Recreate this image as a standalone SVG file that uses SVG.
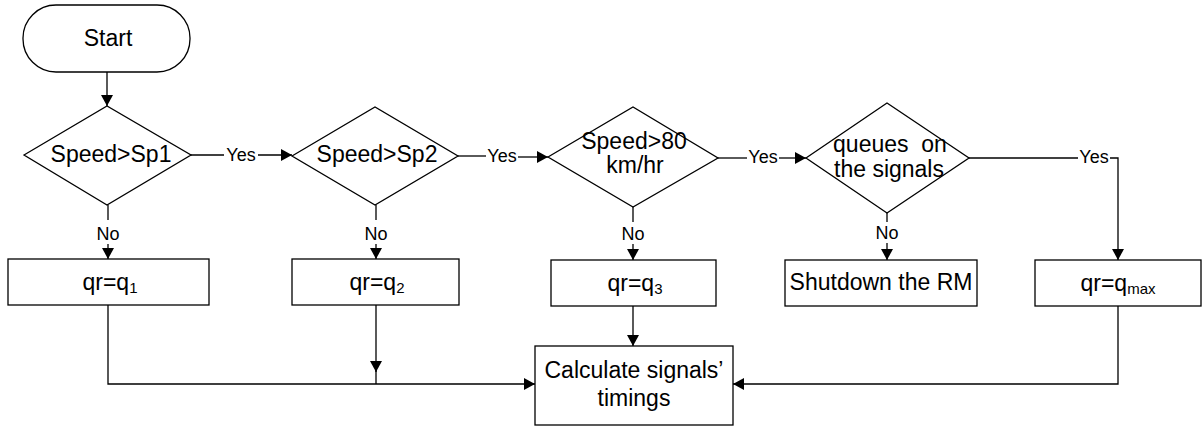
<svg xmlns="http://www.w3.org/2000/svg" width="1204" height="428" viewBox="0 0 1204 428">
<style>
.shape{fill:#fff;stroke:#000;stroke-width:1.3}
.ln{fill:none;stroke:#000;stroke-width:1.3}
.t{font-family:"Liberation Sans",Arial,sans-serif;font-size:23px;fill:#000;text-anchor:middle}
.lb{font-family:"Liberation Sans",Arial,sans-serif;font-size:18px;fill:#000;text-anchor:middle}
.sub{font-size:15px}
</style>
<defs>
<marker id="arr" markerUnits="userSpaceOnUse" markerWidth="11" markerHeight="12" refX="11" refY="6" orient="auto">
<path d="M0,0 L11,6 L0,12 z" fill="#000"/>
</marker>
</defs>
<rect width="1204" height="428" fill="#fff"/>
<g id="connectors">
<line class="ln" x1="107" y1="72" x2="107" y2="106" marker-end="url(#arr)"/>
<line class="ln" x1="191" y1="155" x2="224" y2="155"/>
<line class="ln" x1="258" y1="155" x2="292" y2="155" marker-end="url(#arr)"/>
<text class="lb" x="241" y="161">Yes</text>
<line class="ln" x1="458" y1="156" x2="486" y2="156"/>
<line class="ln" x1="518" y1="157" x2="548" y2="157" marker-end="url(#arr)"/>
<text class="lb" x="502" y="162">Yes</text>
<line class="ln" x1="718" y1="158" x2="747" y2="158"/>
<line class="ln" x1="779" y1="158" x2="806" y2="158" marker-end="url(#arr)"/>
<text class="lb" x="763" y="163">Yes</text>
<line class="ln" x1="969" y1="158" x2="1078" y2="158"/>
<polyline class="ln" points="1110,158 1118,158 1118,260" marker-end="url(#arr)"/>
<text class="lb" x="1094" y="163">Yes</text>
<line class="ln" x1="108" y1="205" x2="108" y2="220"/>
<line class="ln" x1="108" y1="244" x2="108" y2="259" marker-end="url(#arr)"/>
<text class="lb" x="108" y="240">No</text>
<line class="ln" x1="376" y1="205" x2="376" y2="220"/>
<line class="ln" x1="376" y1="244" x2="376" y2="259" marker-end="url(#arr)"/>
<text class="lb" x="376" y="240">No</text>
<line class="ln" x1="633" y1="207" x2="633" y2="222"/>
<line class="ln" x1="633" y1="244" x2="633" y2="260" marker-end="url(#arr)"/>
<text class="lb" x="633" y="240">No</text>
<line class="ln" x1="887" y1="213" x2="887" y2="222"/>
<line class="ln" x1="887" y1="243" x2="887" y2="260" marker-end="url(#arr)"/>
<text class="lb" x="887" y="239">No</text>
<polyline class="ln" points="108,305 108,384 535,384" marker-end="url(#arr)"/>
<line class="ln" x1="376" y1="305" x2="376" y2="372" marker-end="url(#arr)"/>
<line class="ln" x1="376" y1="370" x2="376" y2="384"/>
<line class="ln" x1="633" y1="306" x2="633" y2="346" marker-end="url(#arr)"/>
<polyline class="ln" points="1118,306 1118,384 733,384" marker-end="url(#arr)"/>
</g>
<g id="start">
<rect class="shape" x="23" y="5" width="167" height="67" rx="33" ry="33"/>
<text class="t" x="108" y="46">Start</text>
</g>
<g id="d1">
<polygon class="shape" points="24,155 107,106 191,155 107,205"/>
<text class="t" x="111" y="162">Speed&gt;Sp1</text>
</g>
<g id="d2">
<polygon class="shape" points="292,156 375,107 458,156 375,205"/>
<text class="t" x="377" y="162">Speed&gt;Sp2</text>
</g>
<g id="d3">
<polygon class="shape" points="548,157 633,107 718,158 633,207"/>
<text class="t" x="634" y="149">Speed&gt;80</text>
<text class="t" x="635" y="173">km/hr</text>
</g>
<g id="d4">
<polygon class="shape" points="806,158 887,103 969,158 887,213"/>
<text class="t" x="890" y="152" xml:space="preserve" style="white-space:pre">queues  on</text>
<text class="t" x="889" y="177">the signals</text>
</g>
<g id="b1">
<rect class="shape" x="8" y="259" width="201" height="46"/>
<text class="t" x="110" y="290">qr=q<tspan class="sub" dy="3">1</tspan></text>
</g>
<g id="b2">
<rect class="shape" x="292" y="259" width="167" height="46"/>
<text class="t" x="377" y="290">qr=q<tspan class="sub" dy="3">2</tspan></text>
</g>
<g id="b3">
<rect class="shape" x="551" y="260" width="165" height="46"/>
<text class="t" x="635" y="291">qr=q<tspan class="sub" dy="3">3</tspan></text>
</g>
<g id="b4">
<rect class="shape" x="785" y="260" width="192" height="46"/>
<text class="t" x="881" y="290">Shutdown the RM</text>
</g>
<g id="b5">
<rect class="shape" x="1035" y="260" width="166" height="46"/>
<text class="t" x="1118" y="291">qr=q<tspan class="sub" dy="3">max</tspan></text>
</g>
<g id="calc">
<rect class="shape" x="535" y="346" width="198" height="79"/>
<text class="t" x="634" y="378">Calculate signals’</text>
<text class="t" x="634" y="406">timings</text>
</g>
</svg>
